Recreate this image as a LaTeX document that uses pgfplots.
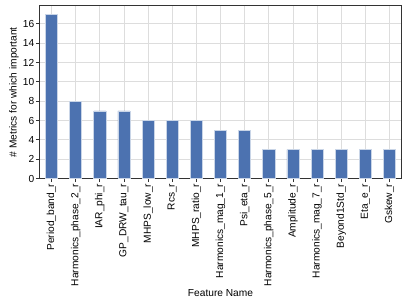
\documentclass[border=0pt]{standalone}
\usepackage{pgfplots}
\pgfplotsset{compat=1.18}
\usepackage{fontspec}
\setmainfont{Liberation Sans}
\definecolor{barblue}{HTML}{4C72B0}
\definecolor{gridgray}{HTML}{DDDDDD}
\definecolor{axgray}{HTML}{333333}
\begin{document}
\fontsize{10.2bp}{12bp}\selectfont
\begin{tikzpicture}
\begin{axis}[
  scale only axis,
  width=363bp, height=173bp,
  ybar, bar width=0.5,
  xmin=-0.5, xmax=14.5, ymin=0, ymax=17.85,
  xtick=data,
  xticklabels={Period\_band\_r,Harmonics\_phase\_2\_r,IAR\_phi\_r,GP\_DRW\_tau\_r,MHPS\_low\_r,Rcs\_r,MHPS\_ratio\_r,Harmonics\_mag\_1\_r,Psi\_eta\_r,Harmonics\_phase\_5\_r,Amplitude\_r,Harmonics\_mag\_7\_r,Beyond1Std\_r,Eta\_e\_r,Gskew\_r},
  xticklabel style={rotate=90, anchor=east, font=\fontsize{10.2bp}{12bp}\selectfont, inner sep=1.5bp},
  yticklabel style={font=\fontsize{10.2bp}{12bp}\selectfont, inner sep=1.5bp},
  ytick={0,2,...,16},
  xlabel={Feature Name},
  ylabel={\# Metrics for which important},
  label style={font=\fontsize{10.2bp}{12bp}\selectfont},
  xlabel style={yshift=2bp},
  ylabel style={yshift=-1bp},
  /pgf/number format/assume math mode=true,
  grid=major,
  major grid style={gridgray, line width=0.8pt},
  axis line style={axgray, line width=0.9pt},
  tick style={axgray, line width=0.8pt},
  tick align=outside,
  major tick length=3.5bp,
  xtick pos=bottom, ytick pos=left,
]
\addplot[fill=barblue, draw=white!70!barblue, line width=0.6pt] coordinates {
(0,17) (1,8) (2,7) (3,7) (4,6) (5,6) (6,6) (7,5) (8,5) (9,3) (10,3) (11,3) (12,3) (13,3) (14,3)
};
\end{axis}
\path (current bounding box.west) ++(-6bp,0) coordinate (L);
\path (current bounding box.east) ++(5bp,0) coordinate (R);
\path (current bounding box.north) ++(0,5.5bp) coordinate (T);
\path (current bounding box.south) ++(0,-3bp) coordinate (B);
\path (L) (R) (T) (B);
\end{tikzpicture}
\end{document}
